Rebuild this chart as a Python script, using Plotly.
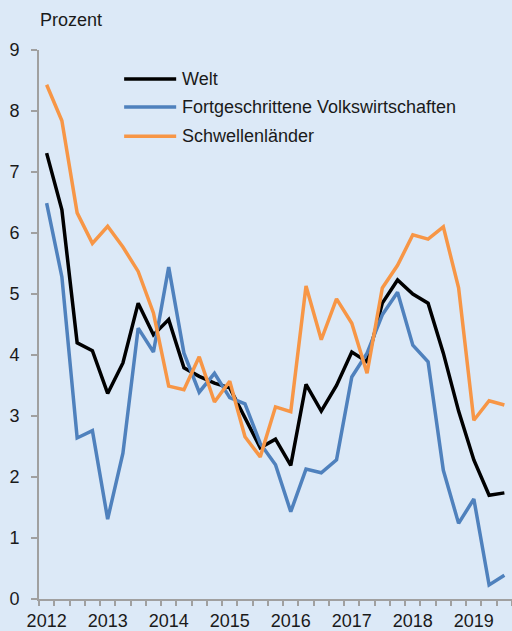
import plotly.graph_objects as go

quarters = [f"{y}Q{q}" for y in range(2012, 2020) for q in range(1, 5)][:31]
welt = [7.31, 6.38, 4.20, 4.07, 3.37, 3.87, 4.85, 4.33, 4.58, 3.79, 3.65, 3.54, 3.46, 2.97, 2.48,
        2.62, 2.19, 3.52, 3.08, 3.50, 4.05, 3.89, 4.85, 5.23, 5.00, 4.85, 4.03, 3.08, 2.28, 1.70, 1.74]
fortgeschritten = [6.49, 5.28, 2.64, 2.76, 1.31, 2.39, 4.44, 4.05, 5.44, 4.03, 3.39, 3.70, 3.30, 3.20, 2.55,
                   2.20, 1.43, 2.13, 2.07, 2.28, 3.64, 4.03, 4.66, 5.03, 4.16, 3.89, 2.11, 1.24, 1.64, 0.23, 0.39]
schwellen = [8.43, 7.84, 6.33, 5.83, 6.11, 5.77, 5.37, 4.69, 3.49, 3.43, 3.97, 3.23, 3.57, 2.66, 2.33,
             3.15, 3.07, 5.13, 4.25, 4.92, 4.52, 3.70, 5.10, 5.47, 5.97, 5.90, 6.10, 5.10, 2.93, 3.25, 3.18]
year_labels = ["2012", "2013", "2014", "2015", "2016", "2017", "2018", "2019"]

x = list(range(len(quarters)))
series = [
    ("Welt", welt, "#000000"),
    ("Fortgeschrittene Volkswirtschaften", fortgeschritten, "#4f81bd"),
    ("Schwellenländer", schwellen, "#f79646"),
]

bg = "#dce9f7"
axis_col = "#a0a0a0"
txt_col = "#1a1a1a"

fig = go.Figure()
for name, vals, col in series:
    fig.add_trace(go.Scatter(x=x, y=vals, mode="lines", name=name,
                             line=dict(color=col, width=3.5), hoverinfo="skip", showlegend=False))

# manual legend (paper coordinates)
leg_y = [0.947, 0.896, 0.843]
for (name, vals, col), ly in zip(series, leg_y):
    fig.add_shape(type="line", xref="paper", yref="paper", x0=0.180, x1=0.290, y0=ly, y1=ly,
                  line=dict(color=col, width=3.5))
    fig.add_annotation(text=name, xref="paper", yref="paper", x=0.298, y=ly,
                       xanchor="left", yanchor="middle", showarrow=False,
                       font=dict(size=18, color=txt_col))

fig.add_annotation(text="Prozent", xref="paper", yref="paper", x=-0.002, y=1.0546,
                   xanchor="left", yanchor="middle", showarrow=False,
                   font=dict(size=18, color=txt_col))

fig.update_layout(
    width=512, height=631,
    paper_bgcolor=bg, plot_bgcolor=bg,
    margin=dict(l=39, r=0, t=50, b=32, autoexpand=False),
    font=dict(family="Liberation Sans, Arial, sans-serif", size=18, color=txt_col),
    showlegend=False,
)
fig.update_xaxes(
    range=[-0.5, len(quarters) - 0.5],
    tickmode="array", tickvals=[x[i] for i in range(0, len(quarters), 4)], ticktext=year_labels,
    ticks="", showline=True, linecolor=axis_col, linewidth=2, showgrid=False, zeroline=False,
    minor=dict(tickmode="linear", tick0=-0.5, dtick=1, ticks="outside", ticklen=5,
               tickcolor=axis_col, tickwidth=2, showgrid=False),
    tickfont=dict(size=18, color=txt_col), ticklabelstandoff=4,
)
fig.update_yaxes(
    range=[0, 9], tickmode="linear", tick0=0, dtick=1,
    ticks="outside", ticklen=6, tickcolor=axis_col, tickwidth=2,
    showline=True, linecolor=axis_col, linewidth=2, showgrid=False, zeroline=False,
    tickfont=dict(size=18, color=txt_col), ticklabelstandoff=8,
)
fig.write_html("out.html", config={"displayModeBar": False},
               post_script="document.body.style.margin='0';document.body.style.overflow='hidden';")
